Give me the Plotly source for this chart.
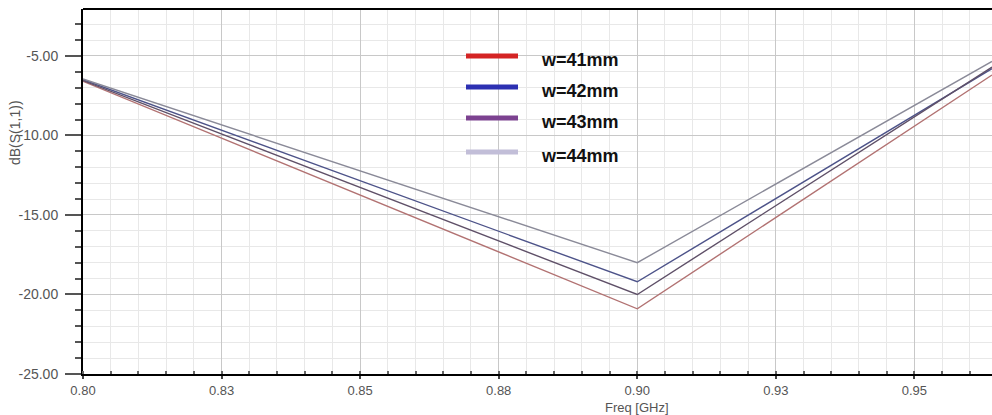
import plotly.graph_objects as go

# Return loss sweep for four patch widths
freq_ghz = [0.80, 0.90, 0.964]
s11_w41 = [-6.60, -20.90, -6.20]
s11_w42 = [-6.50, -19.20, -5.80]
s11_w43 = [-6.55, -20.00, -5.70]
s11_w44 = [-6.45, -18.00, -5.35]

series_names = ["w=41mm", "w=42mm", "w=43mm", "w=44mm"]
series_values = [s11_w41, s11_w42, s11_w43, s11_w44]
line_colors = ["#b27272", "#4d5389", "#5f5068", "#8a8a98"]
legend_colors = ["#d42424", "#2c30b2", "#7c4290", "#c2bed8"]

x_tick_vals = [0.800, 0.825, 0.850, 0.875, 0.900, 0.925, 0.950]
x_tick_text = ["0.80", "0.83", "0.85", "0.88", "0.90", "0.93", "0.95"]
y_tick_vals = [-25, -20, -15, -10, -5]
y_tick_text = ["-25.00", "-20.00", "-15.00", "-10.00", "-5.00"]

W, H = 992, 415
L, R, T, B = 83, 0, 9, 41
plot_w = W - L - R
plot_h = H - T - B


def px_x(px):
    return (px - L) / plot_w


def px_y(py):
    return 1 - (py - T) / plot_h


fig = go.Figure()
for name, vals, col in zip(series_names, series_values, line_colors):
    fig.add_trace(go.Scatter(
        x=freq_ghz, y=vals, mode="lines", name=name,
        line=dict(color=col, width=1.4), showlegend=False,
    ))

base_font = "Liberation Sans, Arial, sans-serif"
y_tick_font = dict(family=base_font, size=14, color="#555555")
x_tick_font = dict(family=base_font, size=13, color="#555555")

fig.update_xaxes(
    range=[0.80, 0.964],
    tickmode="array", tickvals=x_tick_vals, ticktext=x_tick_text,
    ticks="outside", ticklen=3, tickwidth=2, tickcolor="#444444",
    showline=True, linecolor="#000000", linewidth=2,
    showgrid=True, gridcolor="#c8c8c8", gridwidth=1,
    zeroline=False, tickfont=x_tick_font,
    minor=dict(tickmode="linear", tick0=0.80, dtick=0.005, ticks="inside",
               ticklen=3, tickwidth=2, tickcolor="#666666",
               showgrid=True, gridcolor="#e8e8e8", gridwidth=1),
)
fig.update_yaxes(
    range=[-25, -2.05],
    tickmode="array", tickvals=y_tick_vals, ticktext=y_tick_text,
    ticks="outside", ticklen=16, tickwidth=2, tickcolor="#555555",
    showline=True, linecolor="#000000", linewidth=2,
    showgrid=True, gridcolor="#c8c8c8", gridwidth=1,
    zeroline=False, tickfont=y_tick_font, ticklabelstandoff=4,
    minor=dict(tickmode="linear", tick0=-25, dtick=1, ticks="outside",
               ticklen=6, tickwidth=2, tickcolor="#555555",
               showgrid=True, gridcolor="#e8e8e8", gridwidth=1),
)

shapes = [dict(type="line", xref="paper", yref="paper", x0=0, x1=1, y0=1, y1=1,
               line=dict(color="#000000", width=2))]
annotations = []

# Legend block: thick colour swatches with bold labels
legend_rows_px = [56, 87, 118, 152]
for name, col, py in zip(series_names, legend_colors, legend_rows_px):
    shapes.append(dict(type="line", xref="paper", yref="paper",
                       x0=px_x(466), x1=px_x(518), y0=px_y(py), y1=px_y(py),
                       line=dict(color=col, width=5)))
    annotations.append(dict(text=name, xref="paper", yref="paper",
                            x=px_x(539), y=px_y(py + 4), xanchor="left", yanchor="middle",
                            showarrow=False,
                            font=dict(family=base_font, size=18, color="#111111",
                                      weight="bold")))

annotations.append(dict(text="dB(S(1,1))", xref="paper", yref="paper",
                        x=px_x(15), y=px_y(133), textangle=-90,
                        xanchor="center", yanchor="middle", showarrow=False,
                        font=dict(family=base_font, size=14, color="#555555")))
annotations.append(dict(text="Freq [GHz]", xref="x", yref="paper",
                        x=0.90, y=px_y(407), xanchor="center", yanchor="middle",
                        showarrow=False,
                        font=dict(family=base_font, size=13, color="#555555")))

fig.update_layout(
    width=W, height=H,
    margin=dict(l=L, r=R, t=T, b=B, pad=0),
    paper_bgcolor="#ffffff", plot_bgcolor="#ffffff",
    shapes=shapes, annotations=annotations,
    showlegend=False,
)

fig.write_html("out.html")
